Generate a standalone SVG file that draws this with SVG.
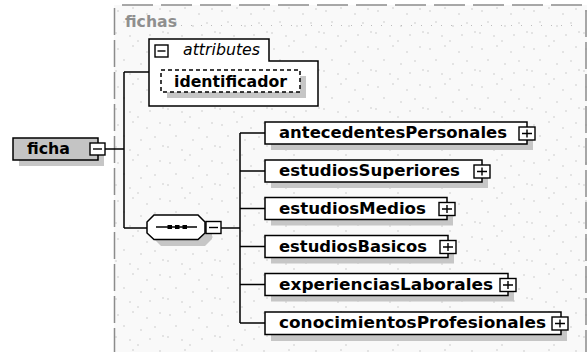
<svg xmlns="http://www.w3.org/2000/svg" width="587" height="352" viewBox="0 0 587 352">
  <defs>
    <pattern id="grid-dots" x="114" y="5" width="52" height="38" patternUnits="userSpaceOnUse">
      <circle cx="4" cy="6" r="0.7"/>
      <circle cx="19" cy="3" r="0.7"/>
      <circle cx="33" cy="9" r="0.7"/>
      <circle cx="46" cy="4" r="0.7"/>
      <circle cx="10" cy="17" r="0.7"/>
      <circle cx="27" cy="21" r="0.7"/>
      <circle cx="41" cy="18" r="0.7"/>
      <circle cx="2" cy="28" r="0.7"/>
      <circle cx="16" cy="31" r="0.7"/>
      <circle cx="36" cy="30" r="0.7"/>
      <circle cx="49" cy="27" r="0.7"/>
      <circle cx="24" cy="36" r="0.7"/>
    </pattern>
    <style>
      .frame-bg { fill: #f9f9f9; }
      .dots { fill: url(#grid-dots); }
      #grid-dots circle { fill: #bcbcbc; }
      .frame-edge { fill: none; stroke: #8c8c8c; stroke-width: 1.5; }
      .box { fill: #ffffff; stroke: #000000; stroke-width: 1.5; }
      .box-gray { fill: #c4c4c4; stroke: #000000; stroke-width: 1.5; }
      .shadow { fill: #c6c6c6; }
      .attr-box { fill: #ffffff; stroke: #000000; stroke-width: 1.5; stroke-dasharray: 4 3; }
      .icon { fill: #ffffff; stroke: #000000; stroke-width: 1.4; }
      .icon-mark { stroke: #000000; stroke-width: 1.4; fill: none; }
      .wire { fill: none; stroke: #000000; stroke-width: 1.5; }
      .label { font-family: "DejaVu Sans", Verdana, sans-serif; font-weight: bold; font-size: 15px; fill: #000000; }
      .title { font-family: "DejaVu Sans", Verdana, sans-serif; font-weight: bold; font-size: 15px; fill: #8f8f8f; }
      .italic { font-family: "DejaVu Sans", Verdana, sans-serif; font-style: italic; font-size: 15px; fill: #000000; }
    </style>
  </defs>

  <rect width="587" height="352" fill="#ffffff"/>

  <!-- complex type frame -->
  <g id="fichas-type">
    <rect class="frame-bg" x="114" y="5" width="473" height="347"/>
    <rect class="dots" x="114" y="5" width="473" height="347"/>
    <line class="frame-edge" x1="122" y1="5" x2="587" y2="5" stroke-dasharray="31 8"/>
    <line class="frame-edge" x1="114.5" y1="8" x2="114.5" y2="352" stroke-dasharray="27 5"/>
    <line class="frame-edge" x1="586" y1="10" x2="586" y2="352" stroke-dasharray="27 5"/>
    <text class="title" x="125" y="27" textLength="52" lengthAdjust="spacingAndGlyphs">fichas</text>
    <line x1="181" y1="25.5" x2="580" y2="25.5" stroke="#bcbcbc" stroke-width="1" stroke-dasharray="1 9"/>
  </g>

  <!-- connectors -->
  <g id="connectors">
    <path class="wire" d="M105,149 H124 M124,72 V228 M124,72 H149 M124,228 H147"/>
    <path class="wire" d="M221,228 H240 M240,133 V323"/>
    <path class="wire" d="M240,133 H265 M240,171 H265 M240,208.5 H265 M240,246.5 H265 M240,284.5 H265 M240,323 H265"/>
  </g>

  <!-- root element -->
  <g id="ficha">
    <rect class="shadow" x="19" y="144" width="85" height="22"/>
    <rect class="box-gray" x="13" y="138" width="85" height="22"/>
    <text class="label" x="27" y="154" textLength="43" lengthAdjust="spacingAndGlyphs">ficha</text>
    <rect class="icon" x="90" y="143" width="15" height="12"/>
    <path class="icon-mark" d="M93,149 H102"/>
  </g>

  <!-- attributes -->
  <g id="attributes">
    <path class="box" d="M149,39 H269 V61 H318 V106 H149 Z"/>
    <rect class="icon" x="155" y="45" width="13" height="12"/>
    <path class="icon-mark" d="M157.5,51 H165.5"/>
    <text class="italic" x="183" y="55" textLength="77" lengthAdjust="spacingAndGlyphs">attributes</text>
  </g>

  <g id="identificador">
    <rect class="shadow" x="167" y="76" width="139" height="22"/>
    <rect class="attr-box" x="161" y="70" width="139" height="22"/>
    <text class="label" x="174" y="86.5" textLength="113" lengthAdjust="spacingAndGlyphs">identificador</text>
  </g>

  <!-- sequence compositor -->
  <g id="sequence">
    <polygon class="shadow" points="161,221 205,221 212,228 212,239 205,246 161,246 154,239 154,228"/>
    <polygon class="box" points="154,215 198,215 205,222 205,233 198,239.5 154,239.5 147,233 147,222"/>
    <path class="icon-mark" d="M156,227 H197"/>
    <rect x="167.5" y="225" width="4.5" height="4" fill="#000000"/>
    <rect x="175" y="225" width="4.5" height="4" fill="#000000"/>
    <rect x="182.5" y="225" width="4.5" height="4" fill="#000000"/>
    <rect class="icon" x="206" y="221.5" width="15" height="12"/>
    <path class="icon-mark" d="M209,227.5 H218"/>
  </g>

  <!-- child elements -->
  <g id="antecedentesPersonales">
    <rect class="shadow" x="271" y="128" width="262" height="22"/>
    <rect class="box" x="265" y="122" width="262" height="22"/>
    <text class="label" x="279" y="138" textLength="228" lengthAdjust="spacingAndGlyphs">antecedentesPersonales</text>
    <rect class="icon" x="519" y="127" width="16" height="13"/>
    <path class="icon-mark" d="M522,133.5 H532 M527,129.5 V137.5"/>
  </g>

  <g id="estudiosSuperiores">
    <rect class="shadow" x="271" y="166" width="217" height="22"/>
    <rect class="box" x="265" y="160" width="217" height="22"/>
    <text class="label" x="279" y="176" textLength="181" lengthAdjust="spacingAndGlyphs">estudiosSuperiores</text>
    <rect class="icon" x="474" y="165" width="16" height="13"/>
    <path class="icon-mark" d="M477,171.5 H487 M482,167.5 V175.5"/>
  </g>

  <g id="estudiosMedios">
    <rect class="shadow" x="271" y="203.5" width="182" height="22"/>
    <rect class="box" x="265" y="197.5" width="182" height="22"/>
    <text class="label" x="279" y="213.5" textLength="147" lengthAdjust="spacingAndGlyphs">estudiosMedios</text>
    <rect class="icon" x="439" y="202.5" width="16" height="13"/>
    <path class="icon-mark" d="M442,209 H452 M447,205 V213"/>
  </g>

  <g id="estudiosBasicos">
    <rect class="shadow" x="271" y="241.5" width="183" height="22"/>
    <rect class="box" x="265" y="235.5" width="183" height="22"/>
    <text class="label" x="279" y="251.5" textLength="148" lengthAdjust="spacingAndGlyphs">estudiosBasicos</text>
    <rect class="icon" x="440" y="240.5" width="16" height="13"/>
    <path class="icon-mark" d="M443,247 H453 M448,243 V251"/>
  </g>

  <g id="experienciasLaborales">
    <rect class="shadow" x="271" y="279.5" width="243" height="22"/>
    <rect class="box" x="265" y="273.5" width="243" height="22"/>
    <text class="label" x="279" y="289.5" textLength="214" lengthAdjust="spacingAndGlyphs">experienciasLaborales</text>
    <rect class="icon" x="500" y="278.5" width="16" height="13"/>
    <path class="icon-mark" d="M503,285 H513 M508,281 V289"/>
  </g>

  <g id="conocimientosProfesionales">
    <rect class="shadow" x="271" y="318" width="296" height="23"/>
    <rect class="box" x="265" y="312" width="296" height="22.5"/>
    <text class="label" x="279" y="328" textLength="267" lengthAdjust="spacingAndGlyphs">conocimientosProfesionales</text>
    <rect class="icon" x="552" y="317" width="16" height="13"/>
    <path class="icon-mark" d="M555,323.5 H565 M560,319.5 V327.5"/>
  </g>
</svg>
